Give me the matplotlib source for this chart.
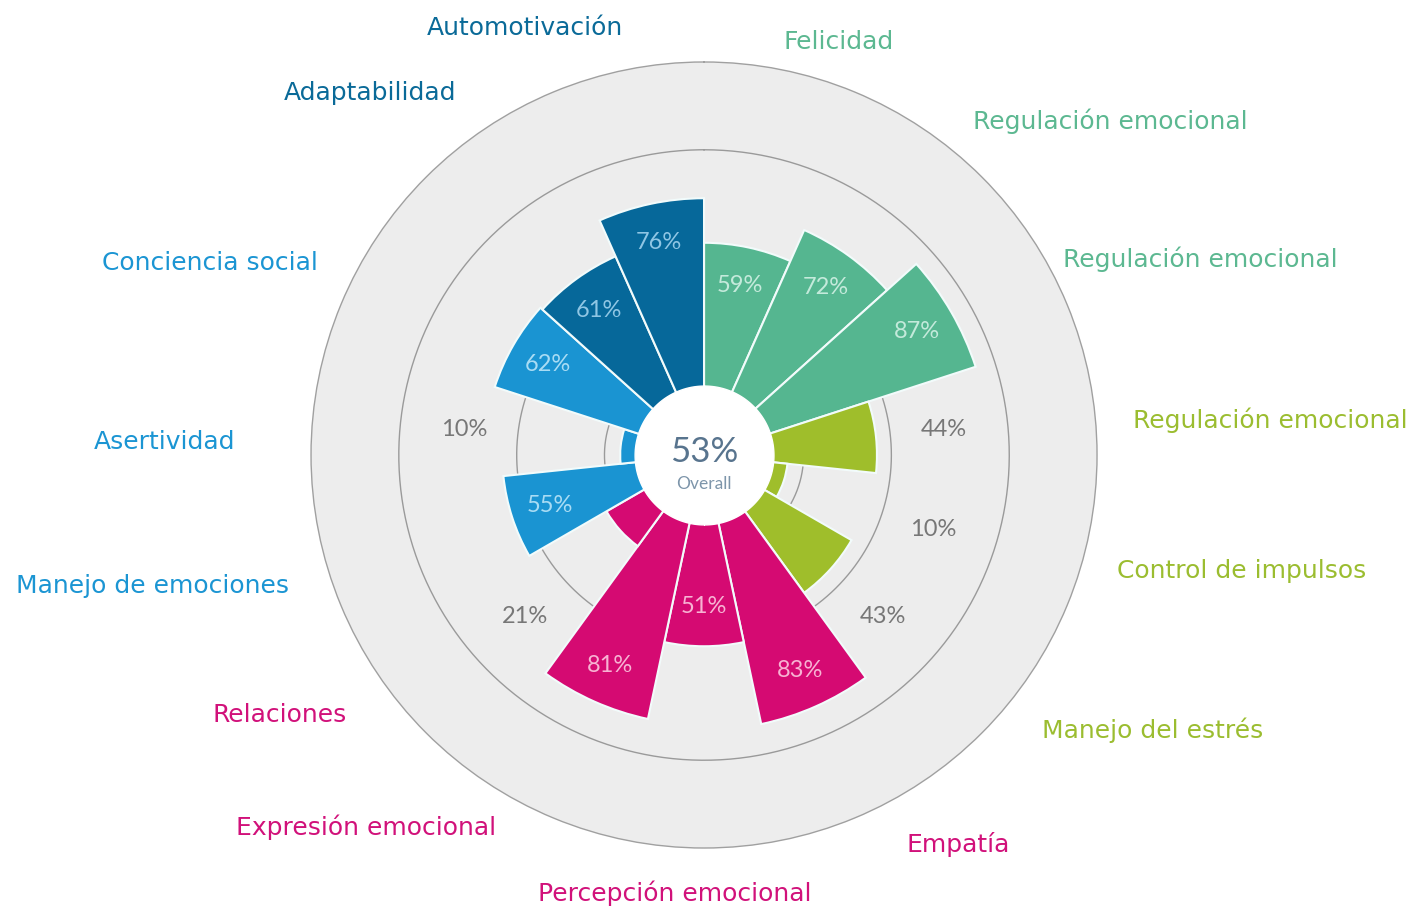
import matplotlib
matplotlib.use("Agg")
import matplotlib.pyplot as plt
import numpy as np

# data, clockwise from 12 o'clock
categories = ["Felicidad", "Regulación emocional", "Regulación emocional",
              "Regulación emocional", "Control de impulsos", "Manejo del estrés",
              "Empatía", "Percepción emocional", "Expresión emocional", "Relaciones",
              "Manejo de emociones", "Asertividad", "Conciencia social",
              "Adaptabilidad", "Automotivación"]
values = [59, 72, 87, 44, 10, 43, 83, 51, 81, 21, 55, 10, 62, 61, 76]
groups = [0, 0, 0, 1, 1, 1, 2, 2, 2, 2, 3, 3, 3, 4, 4]
overall = 53

# styles
bar_colors = ["#55b690", "#9fbe2b", "#d50a72", "#1a94d2", "#06689a"]
label_colors = ["#5cb891", "#9bbd30", "#d1117a", "#1b95d3", "#0a6a98"]
pct_colors = ["#c4eadb", "#e4f0b8", "#f7b3d3", "#a9dcf4", "#8fc6e4"]

# label layout (angle deg, radius in axis units)
label_pos = [(18, 165.7), (50.6, 200.7), (68.5, 203.4), (86.5, 216.4), (102.2, 210),
             (121.5, 201), (146.9, 177.6), (183.8, 167.5), (222.2, 192), (238.5, 190),
             (256.6, 216.5), (271.4, 205.8), (291.2, 202.3), (317.3, 188), (337.3, 176.7)]

base = 22          # radius where bars start (hidden under centre disc)
rmax = 150
rings = [38, 71.5, 116.5]

fig = plt.figure(figsize=(14.15, 9.09), dpi=100)
ax = fig.add_axes([0.2198, 0.0671, 0.5555, 0.8647], projection="polar")
ax.set_theta_zero_location("N")
ax.set_theta_direction(-1)
ax.set_ylim(0, rmax)
ax.set_facecolor("#ededed")
ax.spines["polar"].set_color("#a0a0a0")
ax.spines["polar"].set_linewidth(1.0)
ax.set_xticks([])
ax.set_yticks([])
ax.grid(False)

tt = np.linspace(0, 2 * np.pi, 400)
for r in rings:
    ax.plot(tt, np.full_like(tt, r), color="#9a9a9a", lw=1.0, zorder=1)

n = len(values)
step = 2 * np.pi / n
theta = np.arange(n) * step + step / 2
cols = [bar_colors[g] for g in groups]
ax.bar(theta, values, width=step, bottom=base, color=cols,
       edgecolor="#f2fbfb", linewidth=1.5, zorder=3)

# centre disc
ax.fill_between(tt, 0, 26.5, color="white", zorder=4)

ax.text(0, 0, f"{overall}%", ha="center", va="center", fontsize=25,
        family="Lato", color="#58748e", zorder=5,
        transform=ax.transData + matplotlib.transforms.ScaledTranslation(0, 2 / 72, fig.dpi_scale_trans))
ax.text(np.pi, 11, "Overall", ha="center", va="center", fontsize=12.5,
        family="Lato", color="#7d95aa", zorder=5)

for i in range(n):
    v = values[i]
    g = groups[i]
    if v >= 50:
        ax.text(theta[i], base + v - 15, f"{v}%", ha="center", va="center",
                fontsize=17, family="Lato", color=pct_colors[g], zorder=5)
    else:
        ax.text(theta[i], 92, f"{v}%", ha="center", va="center",
                fontsize=17, family="Lato", color="#777777", zorder=5)
    a, r = label_pos[i]
    ax.text(np.deg2rad(a), r, categories[i], ha="center", va="center",
            fontsize=18, family="DejaVu Sans", color=label_colors[g],
            clip_on=False)

fig.savefig("out.png", dpi=100, facecolor="white")
